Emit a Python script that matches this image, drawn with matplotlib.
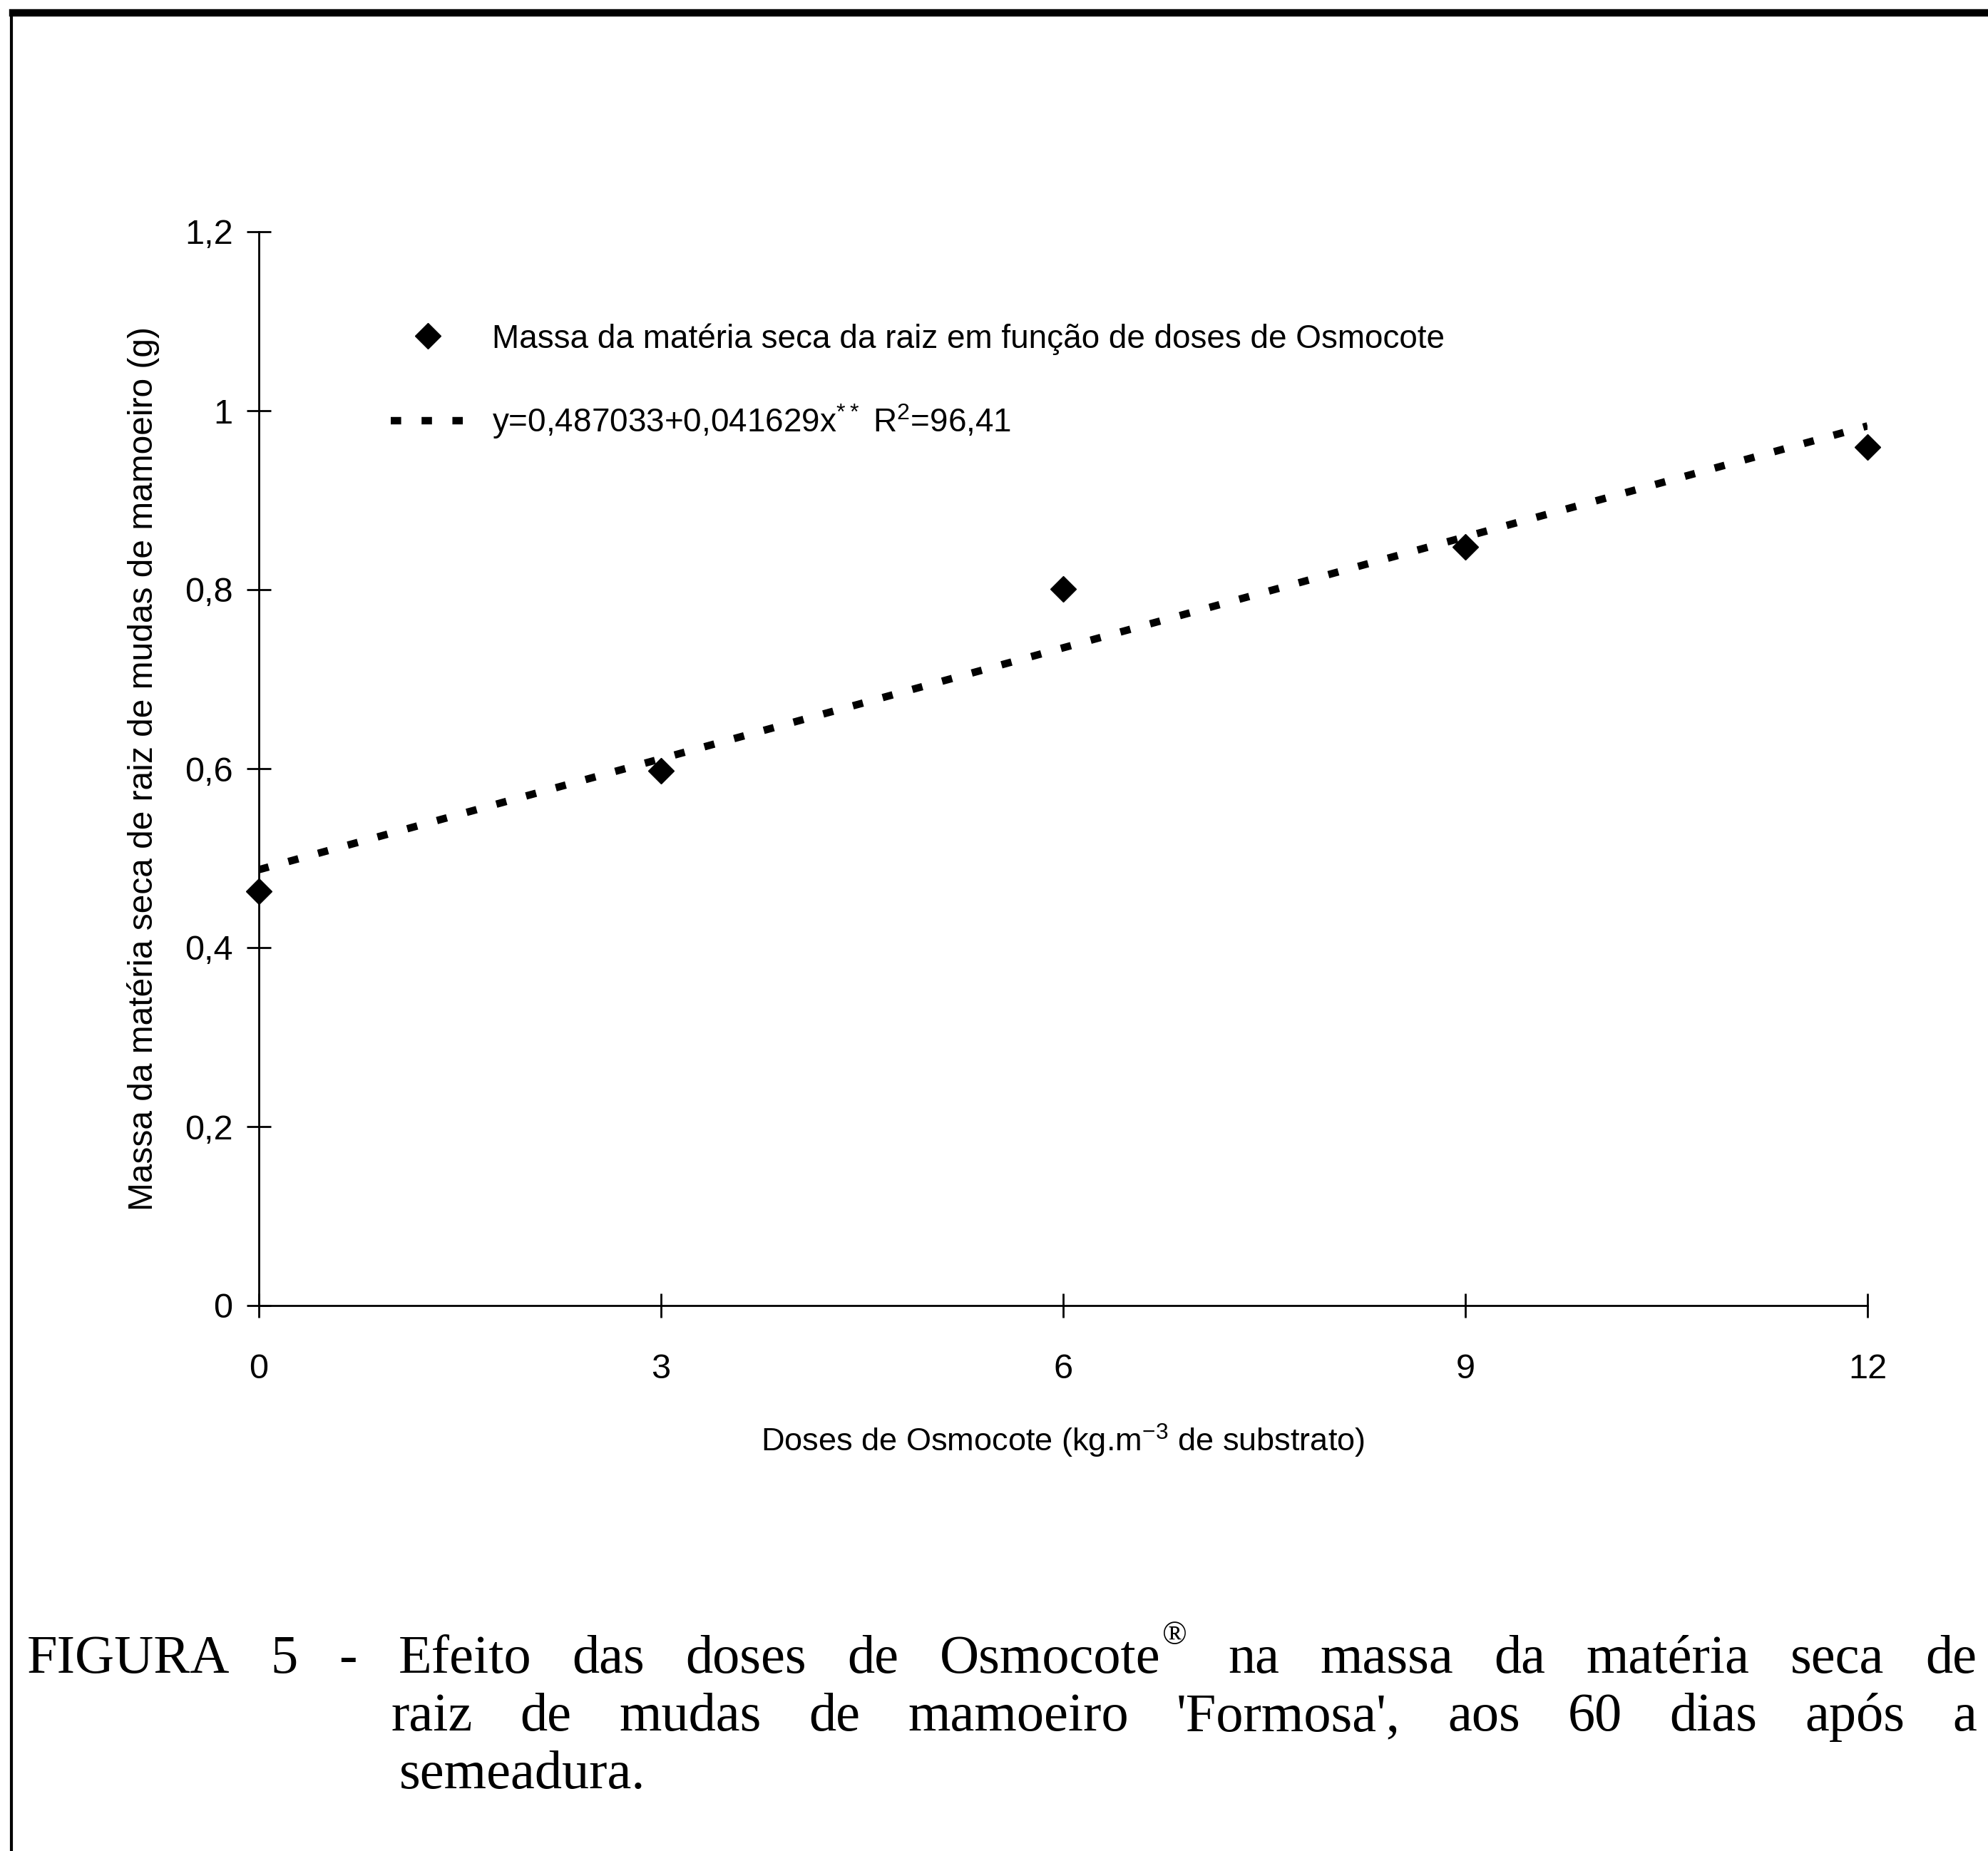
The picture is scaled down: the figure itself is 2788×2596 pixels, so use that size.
import matplotlib
matplotlib.use("Agg")
import matplotlib.pyplot as plt
from matplotlib.lines import Line2D

# dados
doses = [0, 3, 6, 9, 12]
massa_raiz = [0.463, 0.598, 0.801, 0.848, 0.959]
# reta ajustada y=0,487033+0,041629x (extremos lidos)
reta_x = [0, 12]
reta_y = [0.487, 0.983]

xticks = [0, 3, 6, 9, 12]
yticks = [0, 0.2, 0.4, 0.6, 0.8, 1.0, 1.2]
ytick_labels = ["0", "0,2", "0,4", "0,6", "0,8", "1", "1,2"]

legenda_pontos = "Massa da matéria seca da raiz em função de doses de Osmocote"
legenda_reta = r"y=0,487033+0,041629x$^{\mathsf{**}}$ R$^{\mathsf{2}}$=96,41"
rotulo_x = r"Doses de Osmocote (kg.m$^{\mathsf{-3}}$ de substrato)"
rotulo_y = "Massa da matéria seca de raiz de mudas de mamoeiro (g)"

legenda_linhas = [
    "FIGURA 5 - Efeito das doses de Osmocote® na massa da matéria seca de",
    "raiz de mudas de mamoeiro 'Formosa', aos 60 dias após a",
    "semeadura.",
]

plt.rcParams["font.family"] = ["Liberation Sans", "DejaVu Sans"]
plt.rcParams["mathtext.fontset"] = "custom"
plt.rcParams["mathtext.sf"] = "Liberation Sans"
plt.rcParams["mathtext.rm"] = "Liberation Sans"

W, H = 2788, 2596
fig = plt.figure(figsize=(W / 100, H / 100), dpi=100)
ax = fig.add_axes([362.7 / W, (H - 1831) / H, (2619 - 362.7) / W, 1506 / H])

reta, = ax.plot(reta_x, reta_y, color="black", lw=7.5,
                linestyle=(0, (1.4, 2.75)), dash_capstyle="butt", zorder=2)
pts, = ax.plot(doses, massa_raiz, linestyle="none", marker="D", ms=18,
               color="black", clip_on=False, zorder=3)

ax.set_xlim(0, 12)
ax.set_ylim(0, 1.2)
ax.set_xticks(xticks)
ax.set_xticklabels([str(v) for v in xticks])
ax.set_yticks(yticks)
ax.set_yticklabels(ytick_labels)
for s in ["top", "right"]:
    ax.spines[s].set_visible(False)
for s in ["left", "bottom"]:
    ax.spines[s].set_linewidth(2)
ax.tick_params(direction="inout", length=24, width=2, labelsize=35)
ax.tick_params(axis="x", pad=36)
ax.tick_params(axis="y", pad=14)

ax.set_xlabel(rotulo_x, fontsize=32.5)
ax.xaxis.set_label_coords(0.5, -0.126)
ax.xaxis.label.set_va("center")
ax.set_ylabel(rotulo_y, fontsize=34.5)
ax.yaxis.set_label_coords(-0.0717, 0.5)
ax.yaxis.label.set_va("center")

ax.legend([pts, reta], [legenda_pontos, legenda_reta], loc="upper left",
          bbox_to_anchor=(0.082, 0.915), frameon=False, borderpad=0,
          borderaxespad=0, handlelength=2.3, handletextpad=0.8,
          labelspacing=1.45, fontsize=33)

# moldura do scan
fig.add_artist(Line2D([18 / W, 1], [1 - 18 / H, 1 - 18 / H], color="black", lw=7.5))
fig.add_artist(Line2D([16 / W, 16 / W], [0, 1 - 18 / H], color="black", lw=3))

# legenda da figura, justificada
renderer = fig.canvas.get_renderer()
serif = ["Liberation Serif", "DejaVu Serif"]
fs = 55


def palavra(x, y, w):
    # desenha uma palavra, com ® elevado quando houver; devolve textos e largura
    sup = w.endswith("®")
    base = w[:-1] if sup else w
    t = fig.text(x / W, y / H, base, family=serif, fontsize=fs, va="baseline")
    largura = t.get_window_extent(renderer).width
    feitos = [t]
    if sup:
        s = fig.text((x + largura + 2) / W, (y + 40) / H, "®", family=serif,
                     fontsize=fs * 0.6, va="baseline")
        largura += s.get_window_extent(renderer).width + 2
        feitos.append(s)
    return feitos, largura


def linha(texto, x0, x1, y, justificar=True):
    palavras = texto.split(" ")
    larguras = []
    for p in palavras:
        feitos, l = palavra(0, y, p)
        for t in feitos:
            t.remove()
        larguras.append(l)
    if justificar and len(palavras) > 1:
        gap = (x1 - x0 - sum(larguras)) / (len(palavras) - 1)
    else:
        gap = 16
    x = x0
    for p, l in zip(palavras, larguras):
        palavra(x, y, p)
        x += l + gap


linha(legenda_linhas[0], 38, 2772, H - 2346)
linha(legenda_linhas[1], 548, 2772, H - 2427)
linha(legenda_linhas[2], 560, 2772, H - 2508, justificar=False)

fig.savefig("out.png", dpi=100, facecolor="white")
